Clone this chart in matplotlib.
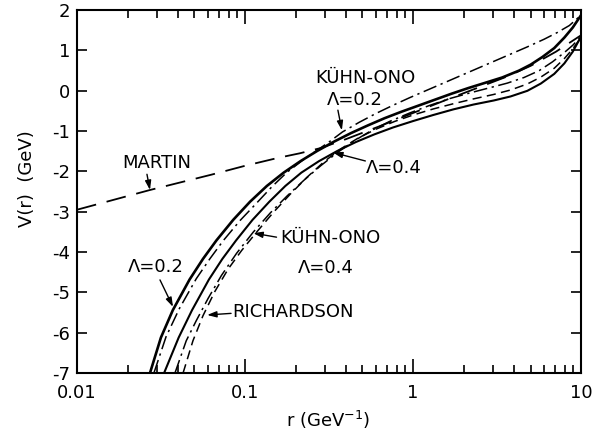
import matplotlib
matplotlib.use("Agg")
import matplotlib.pyplot as plt
from matplotlib.ticker import FixedLocator, FixedFormatter, LogLocator, NullFormatter

plt.rcParams['font.family'] = ['DejaVu Sans']
plt.rcParams['axes.unicode_minus'] = False

# potentials V(r) in GeV, r in GeV^-1
martin_r = [0.01, 0.0272, 0.0631, 0.1, 0.1585, 0.2118, 0.2818, 0.3981, 0.631, 1.0,
            1.585, 2.512, 3.548, 5.012, 7.079, 10.0]
martin_v = [-2.95, -2.46, -2.08, -1.86, -1.66, -1.55, -1.42, -1.20, -0.88, -0.55,
            -0.22, 0.10, 0.34, 0.62, 0.97, 1.38]

lam02_r = [0.0272, 0.0316, 0.0372, 0.0468, 0.0562, 0.0676, 0.0851, 0.1072, 0.1349, 0.1698,
           0.2138, 0.2692, 0.3388, 0.4266, 0.537, 0.6761, 0.8511, 1.0715, 1.349, 1.698,
           2.138, 2.692, 3.388, 4.266, 5.012, 5.888, 6.918, 7.943, 8.913, 10.0]
lam02_v = [-7.0, -6.12, -5.44, -4.68, -4.17, -3.71, -3.20, -2.75, -2.36, -2.03,
           -1.745, -1.49, -1.26, -1.05, -0.86, -0.68, -0.52, -0.37, -0.22, -0.07,
           0.07, 0.20, 0.33, 0.50, 0.65, 0.84, 1.06, 1.32, 1.57, 1.88]

ko02_r = [0.0287, 0.0339, 0.0407, 0.0513, 0.0617, 0.0741, 0.0933, 0.1175, 0.1445, 0.1778,
          0.2239, 0.263, 0.3162, 0.3802, 0.4786, 0.6026, 0.7586, 0.955, 1.202, 1.514,
          1.905, 2.399, 3.02, 3.802, 4.786, 6.026, 7.244, 8.511, 10.0]
ko02_v = [-7.0, -6.10, -5.40, -4.66, -4.17, -3.72, -3.22, -2.78, -2.38, -2.02,
          -1.70, -1.50, -1.27, -1.02, -0.78, -0.56, -0.36, -0.17, 0.01, 0.19,
          0.37, 0.55, 0.73, 0.91, 1.09, 1.28, 1.45, 1.62, 1.88]

lam04_r = [0.033, 0.0403, 0.0484, 0.061, 0.0733, 0.0885, 0.1109, 0.1396, 0.1738, 0.2163,
           0.2754, 0.3548, 0.4571, 0.5888, 0.7586, 1.0, 1.318, 1.738, 2.291, 3.02,
           3.802, 4.786, 5.754, 6.918, 7.943, 8.913, 10.0]
lam04_v = [-7.0, -6.12, -5.44, -4.68, -4.17, -3.71, -3.20, -2.75, -2.36, -2.03,
           -1.745, -1.49, -1.27, -1.08, -0.91, -0.75, -0.60, -0.46, -0.34, -0.24,
           -0.14, 0.0, 0.18, 0.42, 0.68, 0.97, 1.35]

ko04_r = [0.0383, 0.0447, 0.0513, 0.0603, 0.0724, 0.0891, 0.1122, 0.1413, 0.1778, 0.2239,
          0.2818, 0.3548, 0.4467, 0.5623, 0.7244, 0.955, 1.259, 1.66, 2.188, 2.884,
          3.631, 4.571, 5.623, 6.761, 7.943, 8.913, 10.0]
ko04_v = [-7.0, -6.20, -5.70, -5.15, -4.58, -4.03, -3.50, -3.03, -2.61, -2.22,
          -1.86, -1.53, -1.24, -0.99, -0.76, -0.55, -0.36, -0.19, -0.05, 0.08,
          0.19, 0.33, 0.50, 0.72, 0.95, 1.13, 1.35]

rich_r = [0.0428, 0.049, 0.0562, 0.0661, 0.0794, 0.0955, 0.1175, 0.1479, 0.1862, 0.2344,
          0.2951, 0.3715, 0.4677, 0.6026, 0.7762, 1.0, 1.318, 1.738, 2.291, 3.02,
          3.802, 4.786, 5.754, 6.918, 7.943, 8.913, 10.0]
rich_v = [-7.0, -6.20, -5.58, -4.98, -4.42, -3.96, -3.50, -3.01, -2.56, -2.14,
          -1.76, -1.44, -1.18, -0.95, -0.76, -0.60, -0.45, -0.32, -0.20, -0.09,
          0.02, 0.17, 0.34, 0.56, 0.80, 1.04, 1.33]

xticks = [0.01, 0.1, 1, 10]
xtick_labels = ['0.01', '0.1', '1', '10']
yticks = [-7, -6, -5, -4, -3, -2, -1, 0, 1, 2]

fig = plt.figure(figsize=(6.01, 4.42), dpi=100)
ax = fig.add_axes([0.128, 0.156, 0.839, 0.821])

ax.plot(martin_r, martin_v, color='black', lw=1.3, dashes=(11, 6))
ax.plot(lam02_r, lam02_v, color='black', lw=1.9)
ax.plot(ko02_r, ko02_v, color='black', lw=1.1, dashes=(9, 3, 1.5, 3))
ax.plot(lam04_r, lam04_v, color='black', lw=1.5)
ax.plot(ko04_r, ko04_v, color='black', lw=1.1, dashes=(9, 3, 1.5, 3))
ax.plot(rich_r, rich_v, color='black', lw=1.1, dashes=(6, 3.5))

ax.set_xscale('log')
ax.set_xlim(0.01, 10)
ax.set_ylim(-7, 2)

ax.xaxis.set_major_locator(FixedLocator(xticks))
ax.xaxis.set_major_formatter(FixedFormatter(xtick_labels))
ax.xaxis.set_minor_locator(LogLocator(base=10, subs=range(2, 10)))
ax.xaxis.set_minor_formatter(NullFormatter())
ax.set_yticks(yticks)
ax.set_yticklabels([str(v) for v in yticks])

ax.tick_params(which='both', direction='in', top=True, right=True, width=1.2, labelsize=13)
ax.tick_params(axis='x', which='major', length=10, pad=8)
ax.tick_params(axis='x', which='minor', length=6)
ax.tick_params(axis='y', which='major', length=7, pad=5)
for s in ax.spines.values():
    s.set_linewidth(1.5)

ax.set_xlabel('r (GeV$^{-1}$)', fontsize=13)
ax.set_ylabel('V(r)  (GeV)', fontsize=13)
ax.xaxis.set_label_coords(0.498, -0.1)
ax.yaxis.set_label_coords(-0.081, 0.537)

arrow = dict(arrowstyle='-|>,head_length=0.55,head_width=0.18', color='black', lw=1.0,
             shrinkA=0, shrinkB=0)
fs = 13

ax.text(0.0299, -1.79, 'MARTIN', ha='center', va='center', fontsize=fs)
ax.annotate('', xy=(0.0272, -2.46), xytext=(0.0261, -2.07), arrowprops=arrow)

ax.text(0.518, 0.31, 'KÜHN-ONO', ha='center', va='center', fontsize=fs)
ax.text(0.449, -0.23, 'Λ=0.2', ha='center', va='center', fontsize=fs)
ax.annotate('', xy=(0.377, -0.98), xytext=(0.357, -0.48), arrowprops=arrow)

ax.text(0.771, -1.92, 'Λ=0.4', ha='center', va='center', fontsize=fs)
ax.annotate('', xy=(0.334, -1.53), xytext=(0.52, -1.74), arrowprops=arrow)

ax.text(0.321, -3.65, 'KÜHN-ONO', ha='center', va='center', fontsize=fs)
ax.text(0.302, -4.40, 'Λ=0.4', ha='center', va='center', fontsize=fs)
ax.annotate('', xy=(0.112, -3.53), xytext=(0.154, -3.63), arrowprops=arrow)

ax.text(0.0836, -5.49, 'RICHARDSON', ha='left', va='center', fontsize=fs)
ax.annotate('', xy=(0.0595, -5.56), xytext=(0.0826, -5.52), arrowprops=arrow)

ax.text(0.0295, -4.37, 'Λ=0.2', ha='center', va='center', fontsize=fs)
ax.annotate('', xy=(0.0373, -5.36), xytext=(0.0312, -4.69), arrowprops=arrow)

fig.savefig('out.png', dpi=100)
